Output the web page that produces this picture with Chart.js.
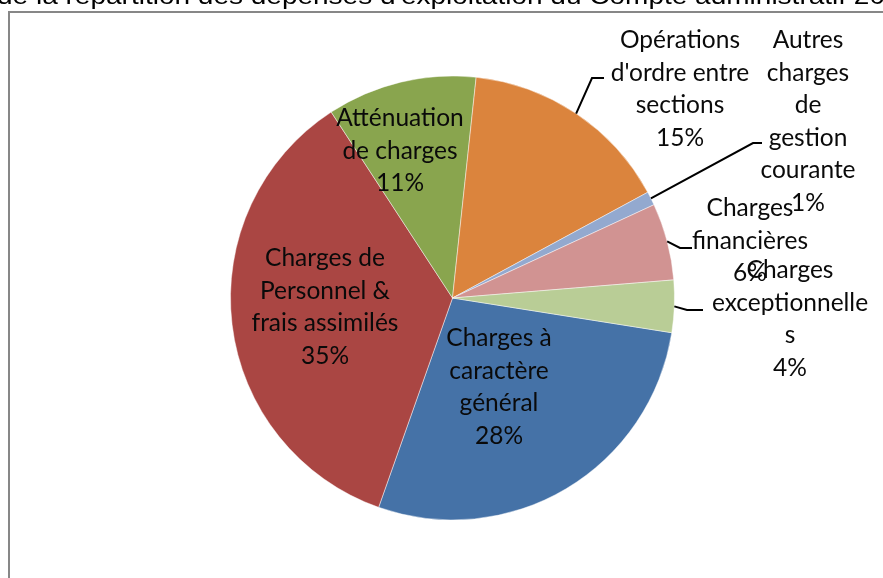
<!DOCTYPE html>
<html><head><meta charset="utf-8">
<script src="https://cdn.jsdelivr.net/npm/chart.js@4"></script>
<style>html,body{margin:0;padding:0;background:#fff;overflow:hidden}</style>
</head><body>
<canvas id="c" width="883" height="578"></canvas>
<script>
const titleText = "de la répartition des dépenses d'exploitation du Compte administratif 20";
const categories = [
  "Charges à caractère général",
  "Charges de Personnel & frais assimilés",
  "Atténuation de charges",
  "Opérations d'ordre entre sections",
  "Autres charges de gestion courante",
  "Charges financières",
  "Charges exceptionnelles"
];
const labelLines = [
  ["Charges à", "caractère", "général"],
  ["Charges de", "Personnel &", "frais assimilés"],
  ["Atténuation", "de charges"],
  ["Opérations", "d'ordre entre", "sections"],
  ["Autres", "charges", "de", "gestion", "courante"],
  ["Charges", "financières"],
  ["Charges", "exceptionnelle", "s"]
];
const values = [27.9, 35.4, 10.9, 15.4, 1.0, 5.6, 3.8];
const colors = ["#4572A7", "#AA4643", "#89A54E", "#DB843D", "#93A9CF", "#D19392", "#B9CD96"];

// layout of labels (center x, first line center y) and leader elbows/ends
const labelPos = [[499, 338], [325, 258], [400, 118], [680, 40], [808, 40], [750, 208], [790, 270]];
const leaders = [null, null, null, [[592, 78], [604, 78]], [[753, 143], [762, 143]], [[680, 248], [692, 248]], [[687, 310], [703, 310]]];
const LINE_H = 32.6;
const LABEL_FONT = "24.5px Lato, 'Open Sans', sans-serif";

const total = values.reduce((a, b) => a + b, 0);

const decor = {
  id: 'decor',
  beforeDraw(chart) {
    const ctx = chart.ctx;
    ctx.save();
    ctx.fillStyle = '#000';
    ctx.font = "24px 'Liberation Sans', Arial, sans-serif";
    ctx.textAlign = 'left';
    ctx.textBaseline = 'alphabetic';
    const w = ctx.measureText(titleText).width;
    ctx.translate(-3, 3.5);
    ctx.scale(888 / w, 1);
    ctx.fillText(titleText, 0, 0);
    ctx.restore();
    ctx.save();
    ctx.strokeStyle = '#878787';
    ctx.lineWidth = 2;
    ctx.beginPath();
    ctx.moveTo(9, 578);
    ctx.lineTo(9, 12);
    ctx.lineTo(883, 12);
    ctx.stroke();
    ctx.restore();
  },
  afterDatasetsDraw(chart) {
    const ctx = chart.ctx;
    const meta = chart.getDatasetMeta(0);
    ctx.save();
    ctx.strokeStyle = '#000';
    ctx.lineWidth = 2;
    meta.data.forEach((arc, i) => {
      const ld = leaders[i];
      if (!ld) return;
      const p = arc.getProps(['x', 'y', 'startAngle', 'endAngle', 'outerRadius'], true);
      const mid = (p.startAngle + p.endAngle) / 2;
      const sx = p.x + Math.cos(mid) * p.outerRadius;
      const sy = p.y + Math.sin(mid) * p.outerRadius;
      ctx.beginPath();
      ctx.moveTo(sx, sy);
      ctx.lineTo(ld[0][0], ld[0][1]);
      ctx.lineTo(ld[1][0], ld[1][1]);
      ctx.stroke();
    });
    ctx.font = LABEL_FONT;
    ctx.fillStyle = '#0a0a0a';
    ctx.textAlign = 'center';
    ctx.textBaseline = 'middle';
    values.forEach((v, i) => {
      const lines = labelLines[i].concat([Math.round(v / total * 100) + '%']);
      const [cx, cy] = labelPos[i];
      lines.forEach((t, k) => ctx.fillText(t, cx, cy + k * LINE_H));
    });
    ctx.restore();
  }
};

new Chart(document.getElementById('c'), {
  type: 'pie',
  data: {
    labels: categories,
    datasets: [{
      data: values,
      backgroundColor: colors,
      borderColor: 'rgba(255,255,255,0.45)',
      borderWidth: 1,
      hoverOffset: 0
    }]
  },
  options: {
    responsive: false,
    devicePixelRatio: 1,
    animation: false,
    rotation: 99,
    radius: 222,
    layout: { padding: { left: 60, right: 38, top: 40, bottom: 22 } },
    plugins: { legend: { display: false }, tooltip: { enabled: false }, title: { display: false } }
  },
  plugins: [decor]
});
</script>
</body></html>
